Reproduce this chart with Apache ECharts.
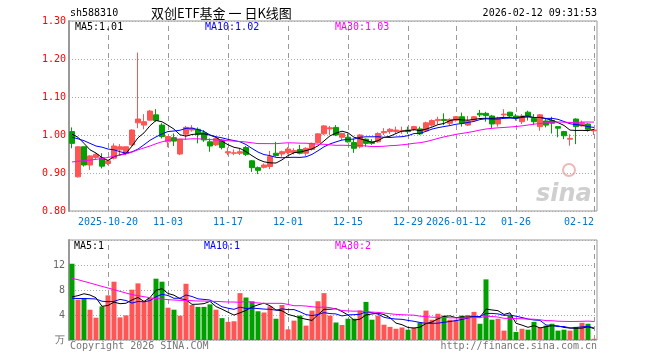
<!DOCTYPE html>
<html><head><meta charset="utf-8">
<script src="https://cdn.jsdelivr.net/npm/echarts@6/dist/echarts.min.js"></script>
<style>html,body{margin:0;padding:0;background:#fff}#c{width:660px;height:360px}</style>
</head><body><div id="c"></div>
<script>
const dates = ['2025-10-10','2025-10-13','2025-10-14','2025-10-15','2025-10-16','2025-10-17','2025-10-20','2025-10-21','2025-10-22','2025-10-23',
'2025-10-24','2025-10-27','2025-10-28','2025-10-29','2025-10-30','2025-10-31','2025-11-03','2025-11-04','2025-11-05','2025-11-06',
'2025-11-07','2025-11-10','2025-11-11','2025-11-12','2025-11-13','2025-11-14','2025-11-17','2025-11-18','2025-11-19','2025-11-20',
'2025-11-21','2025-11-24','2025-11-25','2025-11-26','2025-11-27','2025-11-28','2025-12-01','2025-12-02','2025-12-03','2025-12-04',
'2025-12-05','2025-12-08','2025-12-09','2025-12-10','2025-12-11','2025-12-12','2025-12-15','2025-12-16','2025-12-17','2025-12-18',
'2025-12-19','2025-12-22','2025-12-23','2025-12-24','2025-12-25','2025-12-26','2025-12-29','2025-12-30','2025-12-31','2026-01-05',
'2026-01-06','2026-01-07','2026-01-08','2026-01-09','2026-01-12','2026-01-13','2026-01-14','2026-01-15','2026-01-16','2026-01-19',
'2026-01-20','2026-01-21','2026-01-22','2026-01-23','2026-01-26','2026-01-27','2026-01-28','2026-01-29','2026-01-30','2026-02-02',
'2026-02-03','2026-02-04','2026-02-05','2026-02-06','2026-02-09','2026-02-10','2026-02-11','2026-02-12'];

const opens = [1.009,0.890,0.969,0.921,0.941,0.940,0.925,0.939,0.961,0.952,
0.974,1.032,1.026,1.039,1.053,1.026,0.982,0.993,0.950,1.002,
1.013,1.015,1.006,0.982,0.974,0.987,0.953,0.952,0.952,0.967,
0.932,0.914,0.915,0.917,0.952,0.950,0.954,0.954,0.962,0.952,
0.962,0.980,1.003,1.016,1.020,0.994,0.994,0.980,0.969,0.989,
0.982,0.982,1.006,1.009,1.009,1.009,1.013,1.015,1.016,1.011,
1.026,1.038,1.041,1.031,1.039,1.048,1.026,1.039,1.057,1.057,
1.050,1.029,1.053,1.060,1.050,1.035,1.060,1.044,1.022,1.037,
1.038,1.022,1.009,0.989,1.042,1.024,1.029,1.011];
const closes = [0.978,0.969,0.921,0.945,0.949,0.918,0.932,0.971,0.969,0.969,
1.013,1.042,1.035,1.063,1.038,0.996,0.996,0.984,0.989,1.020,
1.018,1.002,0.987,0.971,0.991,0.967,0.956,0.953,0.956,0.949,
0.914,0.907,0.921,0.943,0.946,0.956,0.963,0.959,0.952,0.965,
0.978,1.003,1.024,1.019,1.000,1.004,0.982,0.965,1.000,0.978,
0.978,1.004,1.009,1.015,1.013,1.011,1.009,1.022,1.003,1.032,
1.038,1.041,1.038,1.041,1.048,1.031,1.037,1.048,1.053,1.051,
1.029,1.044,1.055,1.050,1.044,1.050,1.050,1.035,1.053,1.026,
1.031,1.018,0.998,0.991,1.022,1.032,1.015,1.013];
const highs = [1.020,0.970,0.970,0.947,0.952,0.952,0.934,0.978,0.976,0.969,
1.015,1.217,1.055,1.066,1.068,1.031,0.996,1.004,0.989,1.024,
1.026,1.020,1.013,0.991,0.993,0.989,0.967,0.962,0.965,0.971,
0.934,0.917,0.925,0.958,0.982,0.959,0.968,0.965,0.974,0.968,
0.980,1.004,1.026,1.024,1.026,1.006,1.004,0.991,1.002,0.991,
0.989,1.007,1.018,1.018,1.022,1.022,1.022,1.024,1.022,1.035,
1.041,1.048,1.057,1.044,1.050,1.059,1.050,1.050,1.066,1.061,
1.053,1.048,1.068,1.061,1.055,1.055,1.064,1.055,1.055,1.044,
1.048,1.022,1.011,1.002,1.044,1.038,1.031,1.016];
const lows = [0.965,0.888,0.917,0.908,0.936,0.912,0.921,0.936,0.947,0.947,
0.971,1.018,1.015,1.038,1.035,0.991,0.968,0.971,0.947,0.987,
1.009,0.978,0.982,0.956,0.971,0.962,0.947,0.947,0.947,0.945,
0.903,0.897,0.912,0.910,0.943,0.943,0.949,0.949,0.949,0.945,
0.959,0.978,1.000,1.000,0.997,0.987,0.980,0.953,0.965,0.969,
0.974,0.980,1.000,1.003,1.003,1.003,1.003,1.011,1.000,1.008,
1.022,1.028,1.026,1.026,1.035,1.022,1.024,1.038,1.047,1.035,
1.018,1.022,1.047,1.047,1.038,1.029,1.038,1.026,1.011,1.020,
1.004,0.994,0.989,0.972,0.976,1.022,1.009,1.000];
// volume, in 万
const volumes = [12.2,6.45,6.7,4.85,3.57,5.38,7.14,9.33,3.62,3.94,
8.05,9.06,6.18,6.7,9.81,9.33,5.17,4.85,3.89,9.0,
5.6,5.3,5.3,5.7,4.85,3.5,2.9,3.0,7.5,6.8,
6.2,4.6,4.4,5.4,3.4,5.6,1.7,3.1,3.9,2.3,
4.7,6.2,7.5,3.9,2.8,2.4,3.4,3.4,4.7,6.1,
3.25,3.9,2.45,2.1,1.8,2.0,1.65,2.0,2.8,4.7,
3.25,4.2,3.9,3.25,3.25,3.9,4.0,4.5,2.6,9.7,
3.25,3.4,1.5,3.9,1.3,1.8,1.65,2.9,2.0,2.3,
2.6,1.5,1.65,1.5,2.1,2.75,2.6,0.2];

const ma5Lead = [1.002,0.994,0.978,0.961];
const ma10Lead = [0.994,0.990,0.985,0.978,0.971,0.968,0.963,0.961,0.956];
const ma30Lead = [0.929,0.931,0.932,0.934,0.936,0.938,0.941,0.944,0.947,0.950,
0.955,0.961,0.966,0.971,0.977,0.982,0.986,0.989,0.989,0.989,
0.990,0.990,0.989,0.988,0.987,0.986,0.985,0.984,0.983];
const vma5Lead = [6.9,7.1,7.4,7.2];
const vma10Lead = [6.67,6.64,6.64,6.61,6.56,6.2,6.13,6.18,6.5];
const vma30Lead = [9.86,9.65,9.38,9.12,8.85,8.58,8.32,8.05,7.78,7.52,
7.25,7.09,6.93,6.77,6.61,6.56,6.45,6.40,6.34,6.34,
6.29,6.24,6.24,6.18,6.18,6.13,6.08,6.08,6.02];

const tickDates = ['2025-10-20','2025-11-03','2025-11-17','2025-12-01','2025-12-15','2025-12-29','2026-01-12','2026-01-26','2026-02-12'];
const tickLabels = ['2025-10-20','11-03','11-17','12-01','12-15','12-29','2026-01-12','01-26','02-12'];

const RED = '#ff5555', GREEN = '#00a000';
const MONO = '"DejaVu Sans Mono", "Liberation Mono", monospace';

function movingAvg(arr, n, lead, digits) {
  return arr.map((_, i) => {
    if (i < n - 1) return lead[i];
    let s = 0; for (let k = i - n + 1; k <= i; k++) s += arr[k];
    return +(s / n).toFixed(digits);
  });
}
const ma5 = movingAvg(closes, 5, ma5Lead, 4);
const ma10 = movingAvg(closes, 10, ma10Lead, 4);
const ma30 = movingAvg(closes, 30, ma30Lead, 4);
const vma5 = movingAvg(volumes, 5, vma5Lead, 3);
const vma10 = movingAvg(volumes, 10, vma10Lead, 3);
const vma30 = movingAvg(volumes, 30, vma30Lead, 3);

const kData = dates.map((d, i) => [opens[i], closes[i], lows[i], highs[i]]);
const volData = volumes.map((v, i) => ({value: v, itemStyle: {color: closes[i] >= opens[i] ? RED : GREEN}}));

const chart = echarts.init(document.getElementById('c'), null, {renderer: 'canvas'});

function txt(text, x, y, color, font, align) {
  return {type: 'text', silent: true, z: 100, style: {text, x, y, fill: color, font, textAlign: align || 'left', align: align || 'left', textVerticalAlign: 'middle', verticalAlign: 'middle'}};
}

// dashed vertical date lines drawn by each category axis as ticks spanning the grid
function dateTicks(len) {
  return {show: true, inside: true, length: len, alignWithLabel: true,
    interval: (idx, val) => tickDates.indexOf(val) >= 0,
    lineStyle: {color: '#999999', width: 1, type: [5, 4]}};
}

const option = {
  animation: false,
  backgroundColor: '#ffffff',
  grid: [
    {left: 69, right: 63, top: 21, height: 190, show: true, borderColor: '#999999', borderWidth: 1},
    {left: 69, right: 63, top: 240, height: 100, show: true, borderColor: '#999999', borderWidth: 1}
  ],
  xAxis: [
    {type: 'category', gridIndex: 0, data: dates, boundaryGap: true, z: 1,
      axisLine: {show: false}, axisTick: dateTicks(190), splitLine: {show: false},
      axisLabel: {show: true, color: '#0077cc', fontFamily: MONO, fontSize: 10, margin: 6,
        interval: (idx, val) => tickDates.indexOf(val) >= 0,
        formatter: val => tickLabels[tickDates.indexOf(val)],
        alignMaxLabel: 'right'}},
    {type: 'category', gridIndex: 1, data: dates, boundaryGap: true, z: 1,
      axisLine: {show: false}, axisTick: dateTicks(100), splitLine: {show: false}, axisLabel: {show: false}}
  ],
  yAxis: [
    {type: 'value', gridIndex: 0, min: 0.8, max: 1.3, interval: 0.1,
      axisLine: {show: true, lineStyle: {color: '#999999', width: 2}}, axisTick: {show: false},
      splitLine: {show: true, lineStyle: {color: '#aaaaaa', type: [1, 2], width: 1}},
      axisLabel: {color: '#ff0000', fontFamily: MONO, fontSize: 10, margin: 3,
        formatter: v => v.toFixed(2)}},
    {type: 'value', gridIndex: 1, min: 0, max: 16, interval: 4,
      axisLine: {show: true, lineStyle: {color: '#999999', width: 2}}, axisTick: {show: false},
      splitLine: {show: true, lineStyle: {color: '#aaaaaa', type: [1, 2], width: 1}},
      axisLabel: {color: '#666666', fontFamily: MONO, fontSize: 10, margin: 4,
        formatter: v => v === 0 ? '万' : (v === 16 ? '' : String(v))}}
  ],
  series: [
    {type: 'candlestick', xAxisIndex: 0, yAxisIndex: 0, data: kData, barWidth: 5, z: 3,
      itemStyle: {color: RED, color0: GREEN, borderColor: RED, borderColor0: GREEN, borderWidth: 1}},
    {type: 'line', xAxisIndex: 0, yAxisIndex: 0, data: ma5, symbol: 'none', lineStyle: {color: '#000000', width: 1}, z: 5},
    {type: 'line', xAxisIndex: 0, yAxisIndex: 0, data: ma10, symbol: 'none', lineStyle: {color: '#0000ff', width: 1}, z: 5},
    {type: 'line', xAxisIndex: 0, yAxisIndex: 0, data: ma30, symbol: 'none', lineStyle: {color: '#ff00ff', width: 1}, z: 5},
    {type: 'bar', xAxisIndex: 1, yAxisIndex: 1, data: volData, barWidth: 5, z: 3},
    {type: 'line', xAxisIndex: 1, yAxisIndex: 1, data: vma5, symbol: 'none', lineStyle: {color: '#000000', width: 1}, z: 5},
    {type: 'line', xAxisIndex: 1, yAxisIndex: 1, data: vma10, symbol: 'none', lineStyle: {color: '#0000ff', width: 1}, z: 5},
    {type: 'line', xAxisIndex: 1, yAxisIndex: 1, data: vma30, symbol: 'none', lineStyle: {color: '#ff00ff', width: 1}, z: 5}
  ],
  graphic: [
    txt('sh588310', 70, 13, '#000000', '10px ' + MONO),
    txt('双创ETF基金 一 日K线图', 151, 13, '#000000', '13px "Noto Sans CJK SC"'),
    txt('2026-02-12 09:31:53', 597, 13, '#000000', '10px ' + MONO, 'right'),
    txt('MA5:1.01', 75, 27, '#000000', '10px ' + MONO),
    txt('MA10:1.02', 205, 27, '#0000ff', '10px ' + MONO),
    txt('MA30:1.03', 335, 27, '#ff00ff', '10px ' + MONO),
    txt('MA5:1', 74, 246, '#000000', '10px ' + MONO),
    txt('MA10:1', 204, 246, '#0000ff', '10px ' + MONO),
    txt('MA30:2', 335, 246, '#ff00ff', '10px ' + MONO),
    txt('Copyright 2026 SINA.COM', 70, 346, '#777777', '10px ' + MONO),
    txt('http://finance.sina.com.cn', 597, 346, '#777777', '10px ' + MONO, 'right'),
    {type: 'circle', silent: true, shape: {cx: 569, cy: 170, r: 6}, style: {fill: 'none', stroke: '#eeb8b8', lineWidth: 2}},
    txt('sina', 536, 195, '#cfcfcf', 'italic bold 24px "DejaVu Sans"')
  ]
};
chart.setOption(option);
</script>
</body></html>
